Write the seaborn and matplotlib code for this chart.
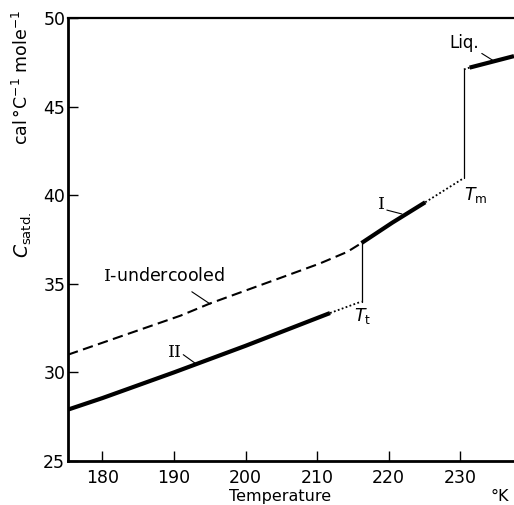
import numpy as np
import pandas as pd
import seaborn as sns
import matplotlib
matplotlib.use('Agg')
import matplotlib.pyplot as plt

# values (temperature in K, C in cal/(deg mole))
T_II = [175.2, 180, 190, 200, 211.8]
C_II = [27.9, 28.55, 30.0, 31.5, 33.35]
T_II_dot = [211.8, 216.2]
C_II_dot = [33.35, 34.0]
T_t_jump = [216.2, 216.2]
C_t_jump = [34.0, 37.3]
T_under = [175.2, 190.9, 195.1, 204.85, 210.4, 214.2, 216.2]
C_under = [31.0, 33.2, 33.9, 35.33, 36.15, 36.8, 37.3]
T_I = [216.2, 220.5, 225.1]
C_I = [37.3, 38.45, 39.6]
T_I_dot = [225.1, 230.5]
C_I_dot = [39.6, 40.97]
T_m_jump = [230.5, 230.5]
C_m_jump = [40.97, 47.1]
T_liq_dot = [230.5, 231.3]
C_liq_dot = [47.1, 47.2]
T_liq = [231.3, 237.5]
C_liq = [47.2, 47.85]

xticks = [180, 190, 200, 210, 220, 230]
yticks = [25, 30, 35, 40, 45, 50]

sns.set_style("ticks", {'axes.edgecolor': 'black', 'text.color': 'black',
                        'xtick.color': 'black', 'ytick.color': 'black',
                        'axes.labelcolor': 'black'})
plt.rcParams['font.family'] = ['DejaVu Sans']

fig = plt.figure(figsize=(5.14, 5.05), dpi=100)
ax = fig.add_axes([68/514, 44/505, 1 - 68/514, (461-18)/505])

def seg(T, C, **kw):
    df = pd.DataFrame({'T': T, 'C': C})
    sns.lineplot(data=df, x='T', y='C', ax=ax, color='black',
                 estimator=None, sort=False, **kw)

seg(T_II, C_II, lw=3.0, solid_capstyle='butt')
seg(T_II_dot, C_II_dot, lw=1.3, linestyle=(0, (1, 1.3)))
seg(T_t_jump, C_t_jump, lw=0.9)
seg(T_under, C_under, lw=1.5, linestyle=(0, (5, 2.6)))
seg(T_I, C_I, lw=3.0, solid_capstyle='butt')
seg(T_I_dot, C_I_dot, lw=1.3, linestyle=(0, (1, 1.3)))
seg(T_m_jump, C_m_jump, lw=0.9)
seg(T_liq_dot, C_liq_dot, lw=1.3, linestyle=(0, (1, 1.3)))
seg(T_liq, C_liq, lw=3.0, solid_capstyle='butt')

ax.set_xlim(175.2, 237.5)
ax.set_ylim(25, 50)
ax.set_xticks(xticks)
ax.set_yticks(yticks)
ax.tick_params(direction='in', length=7, width=1.0, labelsize=12.5)
ax.tick_params(axis='x', pad=6)
ax.tick_params(axis='y', pad=2)
ax.set_xlabel('')
ax.set_ylabel('')
for s in ['left', 'bottom']:
    ax.spines[s].set_linewidth(2.0)
ax.spines['top'].set_linewidth(1.6)
ax.spines['right'].set_visible(False)

# labels with leader lines
fs = 12.5
ax.text(180.1, 35.45, r'$\mathrm{I}$-undercooled', fontsize=fs, va='center',
        ha='left', math_fontfamily='dejavuserif')
ax.plot([192.5, 195.06], [34.55, 33.86], color='black', lw=0.8)
ax.text(190.1, 31.15, 'II', fontsize=fs, va='center', ha='center', family='DejaVu Serif')
ax.plot([191.3, 193.2], [31.0, 30.45], color='black', lw=0.8)
ax.text(218.95, 39.45, 'I', fontsize=fs, va='center', ha='center', family='DejaVu Serif')
ax.plot([219.74, 221.84], [39.16, 38.94], color='black', lw=0.8)
ax.text(216.3, 33.2, r'$T_{\mathrm{t}}$', fontsize=fs, va='center', ha='center')
ax.text(232.1, 40.0, r'$T_{\mathrm{m}}$', fontsize=fs, va='center', ha='center')
ax.text(230.6, 48.6, 'Liq.', fontsize=fs - 0.5, va='center', ha='center')
ax.plot([233.0, 234.7], [48.0, 47.57], color='black', lw=0.8)

fig.text(23/514, 1 - 235/505, r'$C_{\mathrm{satd.}}$', rotation=90,
         fontsize=fs + 1, ha='center', va='center')
fig.text(22/514, 1 - 78/505, r'cal$\,$°C$^{-1}$ mole$^{-1}$', rotation=90,
         fontsize=fs, ha='center', va='center')
fig.text(280/514, 0.002, 'Temperature', fontsize=11.5, ha='center', va='bottom')
fig.text(500/514, 0.002, '°K', fontsize=11.5, ha='center', va='bottom')

fig.savefig('out.png', dpi=100)
